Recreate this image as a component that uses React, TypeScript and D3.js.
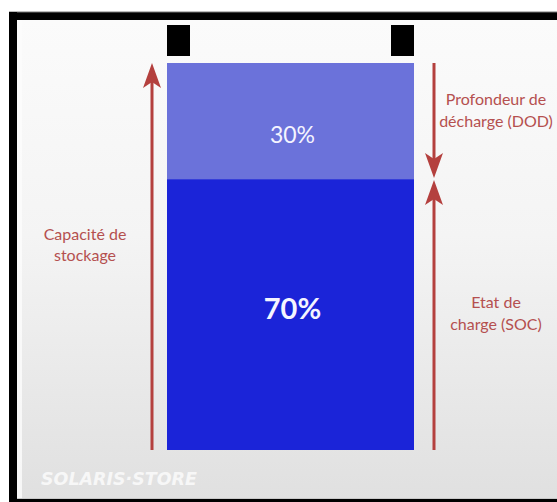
import React from "react";
import * as d3 from "d3";

// ---- data ----
const segmentKeys = ["soc", "dod"];
const segmentNames = ["Etat de charge (SOC)", "Profondeur de décharge (DOD)"];
const segmentValues = [70, 30];
const segmentLabels = ["70%", "30%"];
const leftLabelLines = ["Capacité de", "stockage"];
const dodLabelLines = ["Profondeur de", "décharge (DOD)"];
const socLabelLines = ["Etat de", "charge (SOC)"];
const watermark = "SOLARIS·STORE";

const W = 557;
const H = 502;

const ARROW = "#b4403e";
const TEXT_RED = "#b5504f";
const FONT = "Lato, 'Open Sans', sans-serif";

function arrowHead(x: number, tipY: number, dir: 1 | -1) {
  // dir = -1 : pointing up; dir = 1 : pointing down
  const len = 25;
  const half = 9;
  const notch = 19;
  const p = d3.path();
  p.moveTo(x, tipY);
  p.lineTo(x + half, tipY - dir * len);
  p.lineTo(x, tipY - dir * notch);
  p.lineTo(x - half, tipY - dir * len);
  p.closePath();
  return p.toString();
}

export default function App() {
  const y = d3.scaleLinear().domain([0, 100]).range([450, 63]);
  const x = d3.scaleBand().domain(["batterie"]).range([167, 414]).padding(0);

  const row: Record<string, number> = {};
  segmentKeys.forEach((k, i) => (row[k] = segmentValues[i]));
  const stacked = d3.stack<Record<string, number>>().keys(segmentKeys)([row]);

  const fills = ["#1b24d8", "#6b72da"];
  const bx = x("batterie") as number;
  const bw = x.bandwidth();
  const cx = bx + bw / 2;

  const total = d3.sum(segmentValues);
  const split = y(segmentValues[0]);
  const leftX = 152;
  const rightX = 434;

  return (
    <svg
      width={W}
      height={H}
      style={{ position: "absolute", left: 0, top: 0, display: "block" }}
      fontFamily={FONT}
    >
      <defs>
        <linearGradient id="bg" x1="0" y1="0" x2="0" y2="1">
          <stop offset="0" stopColor="#fbfbfb" />
          <stop offset="0.45" stopColor="#f4f4f4" />
          <stop offset="1" stopColor="#e0e0e0" />
        </linearGradient>
      </defs>
      <rect x={0} y={0} width={W} height={H} fill="#ffffff" />
      <rect x={17} y={20} width={W - 17} height={479} fill="url(#bg)" />
      <rect x={17} y={20} width={5} height={479} fill="#fdfdfd" opacity={0.8} />
      {/* frame */}
      <rect x={9} y={12} width={W - 9} height={8} fill="#000" />
      <line x1={9} x2={W} y1={12} y2={12} stroke="#777" strokeWidth={1} />
      <rect x={9} y={12} width={8} height={H - 12} fill="#000" />
      <rect x={9} y={499} width={W - 9} height={3} fill="#000" />
      <line x1={17} x2={W} y1={498.5} y2={498.5} stroke="#c8c8c8" strokeWidth={1} />

      {/* black squares */}
      <rect x={bx} y={25} width={23} height={31} fill="#000" />
      <rect x={bx + bw - 23} y={25} width={23} height={31} fill="#000" />

      {/* stacked bar */}
      {stacked.map((s, i) => (
        <rect
          key={segmentKeys[i]}
          x={bx}
          y={y(s[0][1])}
          width={bw}
          height={y(s[0][0]) - y(s[0][1])}
          fill={fills[i]}
        >
          <title>{segmentNames[i]}</title>
        </rect>
      ))}
      {stacked.map((s, i) => {
        const mid = (y(s[0][0]) + y(s[0][1])) / 2;
        const isTop = i === 1;
        return (
          <text
            key={"l" + i}
            x={cx + 2}
            y={isTop ? mid + 22 : mid + 4}
            textAnchor="middle"
            fill="#f4f4ff"
            fontSize={isTop ? 23 : 29}
            fontWeight={isTop ? 400 : 700}
          >
            {segmentLabels[i]}
          </text>
        );
      })}

      {/* left arrow : storage capacity */}
      <line x1={leftX} x2={leftX} y1={y(0)} y2={y(total) + 18} stroke={ARROW} strokeWidth={3} />
      <path d={arrowHead(leftX, y(total), -1)} fill={ARROW} />

      {/* right arrows */}
      <line x1={rightX} x2={rightX} y1={y(total)} y2={split - 18} stroke={ARROW} strokeWidth={3} />
      <path d={arrowHead(rightX, split - 1, 1)} fill={ARROW} />
      <line x1={rightX} x2={rightX} y1={y(0)} y2={split + 18} stroke={ARROW} strokeWidth={3} />
      <path d={arrowHead(rightX, split + 1, -1)} fill={ARROW} />

      {/* labels */}
      {leftLabelLines.map((t, i) => (
        <text key={"cap" + i} x={85} y={240 + i * 21} textAnchor="middle" fill={TEXT_RED} fontSize={16}>
          {t}
        </text>
      ))}
      {dodLabelLines.map((t, i) => (
        <text key={"dod" + i} x={496} y={105 + i * 22} textAnchor="middle" fill={TEXT_RED} fontSize={16}>
          {t}
        </text>
      ))}
      {socLabelLines.map((t, i) => (
        <text key={"soc" + i} x={496} y={308 + i * 22} textAnchor="middle" fill={TEXT_RED} fontSize={16}>
          {t}
        </text>
      ))}

      {/* watermark */}
      <text
        x={41}
        y={485}
        fill="#f7f7f7"
        fontSize={18}
        fontWeight={700}
        fontStyle="italic"
        fontFamily="'DejaVu Sans', sans-serif"
        textLength={156}
        lengthAdjust="spacingAndGlyphs"
      >
        {watermark}
      </text>
    </svg>
  );
}
